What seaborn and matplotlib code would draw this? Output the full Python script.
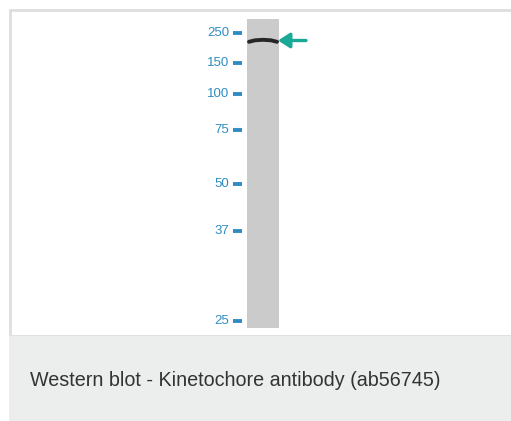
import numpy as np
import pandas as pd
import matplotlib.pyplot as plt
import seaborn as sns
from matplotlib.patches import Rectangle

# marker ladder (kDa) and how far each ran down the lane (px from top of figure)
marker_kda = ['250', '150', '100', '75', '50', '37', '25']
marker_pos = [33, 63, 94, 130, 184, 231, 321]

# detected band (~220 kDa), slightly smiling across the lane
band_x = [249, 255, 263, 271, 277]
band_y = [41.8, 40.3, 39.8, 40.3, 41.8]

caption = 'Western blot - Kinetochore antibody (ab56745)'

sns.set_style('white')
plt.rcParams['font.family'] = ['Liberation Sans', 'DejaVu Sans']

fig = plt.figure(figsize=(5.11, 4.21), dpi=100)
ax = fig.add_axes([0, 0, 1, 1])

# panel frame and caption box
ax.add_patch(Rectangle((10, 10), 530, 326, facecolor='white', edgecolor='#dedede', lw=2))
ax.add_patch(Rectangle((9, 336), 530, 100, facecolor='#eceeed', edgecolor='none'))

# lane
ax.add_patch(Rectangle((247, 19), 32, 309, facecolor='#cbcbcb', edgecolor='none'))

# ladder ticks and labels
ladder = pd.DataFrame({'kda': marker_kda, 'pos': marker_pos})
ax.hlines(ladder['pos'], 233, 242, color='#2f8cc2', lw=2.8)
for _, r in ladder.iterrows():
    ax.text(229, r['pos'], r['kda'], ha='right', va='center', fontsize=9.5,
            color='#2f8cc2')

# band
band = pd.DataFrame({'x': band_x, 'y': band_y})
sns.lineplot(data=band, x='x', y='y', ax=ax, color='#262626', lw=2.8, sort=False)

# arrow pointing at the band
ax.annotate('', xy=(278, 40.5), xytext=(306, 40.5),
            arrowprops=dict(arrowstyle='-|>,head_length=0.7,head_width=0.45',
                            color='#1aa897', lw=2.4, shrinkA=0, shrinkB=0))

ax.text(30, 381, caption, ha='left', va='center', fontsize=14.2, color='#333333')

ax.set_xlim(0, 511)
ax.set_ylim(421, 0)
ax.axis('off')

fig.savefig('out.png', dpi=100)
